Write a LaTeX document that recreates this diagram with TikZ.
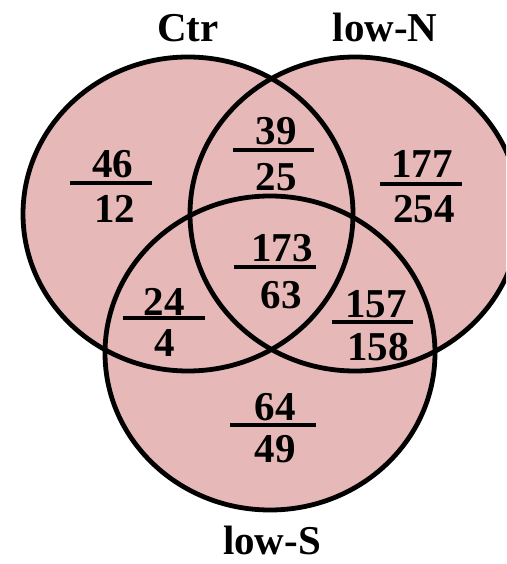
\documentclass[tikz,border=0pt]{standalone}
\usepackage{fontspec}
\setmainfont{Liberation Serif}
\definecolor{vennfill}{RGB}{230,184,183}
\tikzset{
  setshape/.style={line width=4.8pt},
  num/.style={anchor=base, inner sep=0pt, font=\fontsize{41}{41}\selectfont\bfseries},
  lbl/.style={anchor=base, inner sep=0pt, text depth=0pt, font=\fontsize{41}{41}\selectfont\bfseries},
  fracbar/.style={line width=4.5pt}
}
\begin{document}
\begin{tikzpicture}[x=1pt,y=-1pt]
\useasboundingbox (0,0) rectangle (506,564);
\clip (0,0) rectangle (506,564);
% fills
\fill[vennfill] (188,214) ellipse [x radius=165pt, y radius=157pt];
\fill[vennfill] (355,214) ellipse [x radius=165pt, y radius=157pt];
\fill[vennfill] (270,353) ellipse [x radius=165pt, y radius=157pt];
% outlines
\draw[setshape] (188,214) ellipse [x radius=165pt, y radius=157pt];
\draw[setshape] (355,214) ellipse [x radius=165pt, y radius=157pt];
\draw[setshape] (270,353) ellipse [x radius=165pt, y radius=157pt];
% labels
\node[lbl] (lctr) at (188,42) {Ctr};
\node[lbl] (llown) at (385,42) {low-N};
\node[lbl] (llows) at (272,554) {low-S};
% fractions
\node[num] (a1) at (112.5,178) {46};
\node[num] (a2) at (114.5,222) {12};
\draw[fracbar] (70,183) coordinate (a3) -- (152,183) coordinate (a4);
\node[num] (b1) at (276,145) {39};
\node[num] (b2) at (276,190) {25};
\draw[fracbar] (233,150) coordinate (b3) -- (314,150) coordinate (b4);
\node[num] (c1) at (422,178) {177};
\node[num] (c2) at (424,222) {254};
\draw[fracbar] (380,184) coordinate (c3) -- (462,184) coordinate (c4);
\node[num] (d1) at (282,261) {173};
\node[num] (d2) at (281,308) {63};
\draw[fracbar] (234,267) coordinate (d3) -- (316,267) coordinate (d4);
\node[num] (e1) at (164,315) {24};
\node[num] (e2) at (165,356) {4};
\draw[fracbar] (123,318) coordinate (e3) -- (205,318) coordinate (e4);
\node[num] (f1) at (376,317) {157};
\node[num] (f2) at (378,360) {158};
\draw[fracbar] (332,322) coordinate (f3) -- (413,322) coordinate (f4);
\node[num] (g1) at (275,420) {64};
\node[num] (g2) at (275,462) {49};
\draw[fracbar] (230,425) coordinate (g3) -- (316,425) coordinate (g4);
\end{tikzpicture}
\end{document}
